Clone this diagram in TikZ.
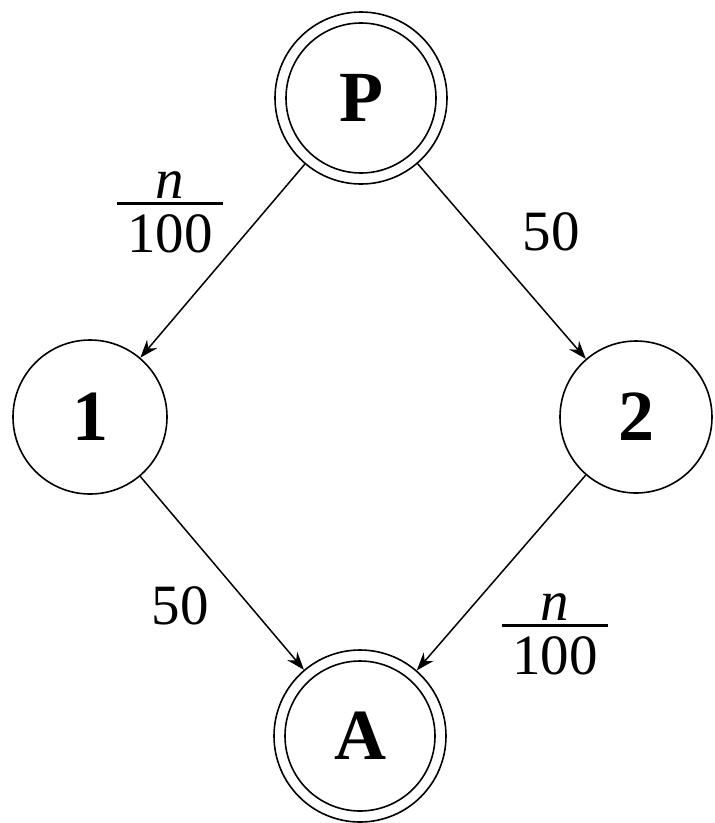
\documentclass[tikz,border=0pt]{standalone}
\usepackage{fontspec}
\setmainfont{Liberation Serif}
\usetikzlibrary{arrows.meta}
\newcommand\myfrac{\vbox{\hbox to 106pt{\hfil\itshape n\hfil}\kern4pt\hrule height 2.6pt\kern9.5pt\hbox to 106pt{\hfil 100\hfil}}}
\tikzset{
  st/.style={circle, draw, line width=1.6pt, minimum size=#1, inner sep=0pt,
    font=\fontsize{72}{80}\selectfont\bfseries},
  edge/.style={line width=1.5pt, -{Stealth[length=18pt,width=13pt]}},
  lab/.style={inner sep=0pt, font=\fontsize{57}{64}\selectfont}
}
\begin{document}
\begin{tikzpicture}[x=1pt,y=1pt]
\useasboundingbox (0,0) rectangle (715,-823);
\node[st=172pt] (P) at (361,-98) {P};
\draw[line width=1.6pt] (P.center) circle (75pt);
\node[st=172pt] (A) at (360,-736) {A};
\draw[line width=1.6pt] (A.center) circle (75pt);
\node[st=154pt] (n1) at (90,-417) {1};
\node[st=152pt] (n2) at (636,-417) {2};
\draw[edge] (P) -- (n1);
\draw[edge] (P) -- (n2);
\draw[edge] (n1) -- (A);
\draw[edge] (n2) -- (A);
\node[lab] (l1) at (170,-212) {\myfrac};
\node[lab] (l2) at (551,-232) {50};
\node[lab] (l3) at (180,-606) {50};
\node[lab] (l4) at (555,-634) {\myfrac};
\end{tikzpicture}
\end{document}
